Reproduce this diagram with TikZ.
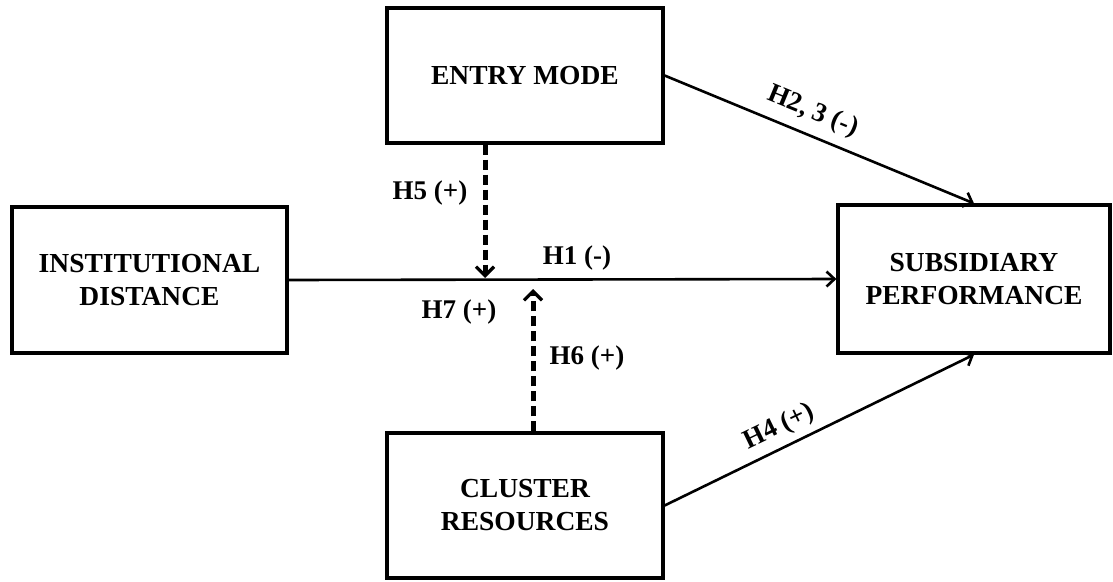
\documentclass[tikz,border=0pt]{standalone}
\usepackage{fontspec}
\setmainfont{Liberation Serif}
\usetikzlibrary{arrows.meta,calc}
\begin{document}
\begin{tikzpicture}[x=1pt,y=-1pt,
  box/.style={draw=black,line width=3.2pt,align=center,inner sep=0pt,
    font=\fontsize{27.5}{33}\selectfont\bfseries},
  lbl/.style={inner sep=0pt,font=\fontsize{27}{32.4}\selectfont\bfseries},
  conn/.style={line width=2.6pt,-{Straight Barb[length=8pt,width=15pt,line width=2.6pt]}},
  mod/.style={line width=5pt,dash pattern=on 10pt off 5pt,
    -{Straight Barb[length=9pt,width=18pt,line width=3.2pt]}}]
\useasboundingbox (0,0) rectangle (1113,581);
\node[box,minimum width=275pt,minimum height=146pt] (id) at (149.5,280) {INSTITUTIONAL\\DISTANCE};
\node[box,minimum width=276pt,minimum height=135pt] (em) at (525,75.5) {ENTRY MODE};
\node[box,minimum width=272pt,minimum height=148pt] (sp) at (974,279) {SUBSIDIARY\\PERFORMANCE};
\node[box,minimum width=276pt,minimum height=145pt] (cr) at (525,505.5) {CLUSTER\\RESOURCES};
\coordinate (m5) at (485,278);
\coordinate (m6) at (533,289);
\draw[conn] (id.east) -- (sp.west);
\draw[conn] (em.east) -- (sp.north);
\draw[conn] (cr.east) -- (sp.south);
\draw[mod] (em.south -| m5) -- (m5);
\draw[mod] (cr.north -| m6) -- (m6);
\node[lbl] (h1) at (577,258) {H1 (-)};
\node[lbl] (h5) at (430,193) {H5 (+)};
\node[lbl] (h7) at (459,312) {H7 (+)};
\node[lbl] (h6) at (587,358) {H6 (+)};
\node[lbl,rotate=-22.4] (h23) at (813,112) {H2, 3 (-)};
\node[lbl,rotate=25.8] (h4) at (779,427) {H4 (+)};
\end{tikzpicture}
\end{document}
